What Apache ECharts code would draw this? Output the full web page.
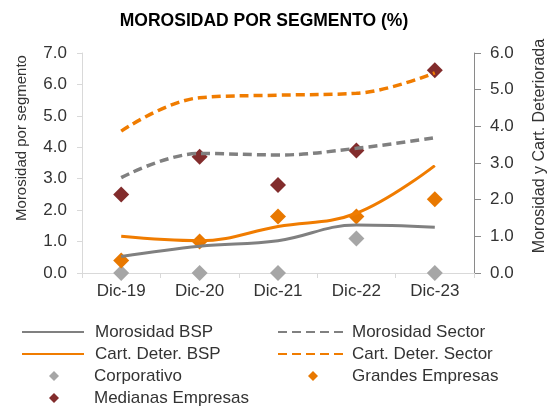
<!DOCTYPE html>
<html>
<head>
<meta charset="utf-8">
<script src="https://cdn.jsdelivr.net/npm/echarts@6/dist/echarts.min.js"></script>
<style>
  html, body { margin: 0; padding: 0; background: #fff; }
</style>
</head>
<body>
<div id="chart" style="width: 552px; height: 406px;"></div>
<script>
// categorias y valores
const periodos = ['Dic-19', 'Dic-20', 'Dic-21', 'Dic-22', 'Dic-23']

// eje derecho: morosidad y cartera deteriorada
const morosidadBSP = [0.45, 0.73, 0.88, 1.31, 1.25]
const morosidadSector = [2.6, 3.26, 3.22, 3.4, 3.69]
const cartDeterBSP = [1.0, 0.88, 1.27, 1.63, 2.93]
const cartDeterSector = [3.87, 4.78, 4.85, 4.9, 5.46]

// eje izquierdo: morosidad por segmento
const corporativo = [0, 0, 0, 1.1, 0]
const grandesEmpresas = [0.4, 1.0, 1.8, 1.8, 2.35]
const medianasEmpresas = [2.5, 3.7, 2.8, 3.9, 6.45]

const FONT = 'Liberation Sans, Arial, sans-serif'
const GRIS = '#808080'
const NARANJA = '#f07c00'

const chart = echarts.init(document.getElementById('chart'))

const legendText = (pad) => ({
  fontFamily: FONT,
  fontSize: 17,
  color: '#333',
  lineHeight: 18,
  padding: [0, 0, 0, pad]
})

const option = {
  animation: false,
  title: {
    text: 'MOROSIDAD POR SEGMENTO (%)',
    left: 259,
    top: 7,
    textAlign: 'center',
    textStyle: { fontFamily: FONT, fontSize: 17.5, fontWeight: 'bold', color: '#000' }
  },
  grid: { left: 82, right: 78, top: 53, bottom: 133 },
  legend: [
    {
      data: ['Morosidad BSP', 'Cart. Deter. BSP'],
      orient: 'vertical', left: 16, top: 318, height: 60,
      itemWidth: 62, itemHeight: 14, itemGap: 4,
      itemStyle: { opacity: 0 },
      textStyle: legendText(6)
    },
    {
      data: ['Morosidad Sector', 'Cart. Deter. Sector'],
      orient: 'vertical', left: 272, top: 318, height: 60,
      itemWidth: 69, itemHeight: 14, itemGap: 4,
      itemStyle: { opacity: 0 },
      textStyle: legendText(0)
    },
    {
      data: ['Corporativo', 'Medianas Empresas'],
      orient: 'vertical', left: 44, top: 362, height: 60,
      itemWidth: 10, itemHeight: 10, itemGap: 4,
      icon: 'diamond',
      textStyle: legendText(30)
    },
    {
      data: ['Grandes Empresas'],
      orient: 'vertical', left: 303, top: 362, height: 60,
      itemWidth: 10, itemHeight: 10, itemGap: 4,
      icon: 'diamond',
      textStyle: legendText(29)
    }
  ],
  xAxis: {
    type: 'category',
    data: periodos,
    axisLine: { lineStyle: { color: '#d9d9d9', width: 1 } },
    axisTick: { show: true, length: 5, lineStyle: { color: '#d9d9d9' } },
    axisLabel: { margin: 10, fontFamily: FONT, fontSize: 17, color: '#333' }
  },
  yAxis: [
    {
      type: 'value',
      min: 0, max: 7, interval: 1,
      axisLine: { show: true, lineStyle: { color: '#d9d9d9' } },
      axisTick: { show: true, length: 5, lineStyle: { color: '#d9d9d9' } },
      splitLine: { show: false },
      axisLabel: { margin: 15, fontFamily: FONT, fontSize: 17, color: '#333', formatter: v => v.toFixed(1) }
    },
    {
      type: 'value',
      min: 0, max: 6, interval: 1,
      position: 'right',
      axisLine: { show: true, lineStyle: { color: '#8a8a8a' } },
      axisTick: { show: true, length: 7, lineStyle: { color: '#8a8a8a' } },
      splitLine: { show: false },
      axisLabel: { margin: 16, fontFamily: FONT, fontSize: 17, color: '#333', formatter: v => v.toFixed(1) }
    }
  ],
  graphic: [
    {
      type: 'text', x: 22, y: 138, rotation: Math.PI / 2,
      style: { text: 'Morosidad por segmento', font: '15px ' + FONT, fill: '#333', align: 'center', verticalAlign: 'middle' }
    },
    {
      type: 'text', x: 540, y: 146, rotation: Math.PI / 2,
      style: { text: 'Morosidad y Cart. Deteriorada', font: '16px ' + FONT, fill: '#333', align: 'center', verticalAlign: 'middle' }
    }
  ],
  series: [
    {
      name: 'Morosidad BSP', type: 'line', yAxisIndex: 1, data: morosidadBSP,
      smooth: 0.4, symbol: 'none',
      lineStyle: { color: GRIS, width: 3 }, itemStyle: { color: GRIS }
    },
    {
      name: 'Morosidad Sector', type: 'line', yAxisIndex: 1, data: morosidadSector,
      smooth: 0.4, symbol: 'none',
      lineStyle: { color: GRIS, width: 3.5, type: [9, 5] }, itemStyle: { color: GRIS }
    },
    {
      name: 'Cart. Deter. BSP', type: 'line', yAxisIndex: 1, data: cartDeterBSP,
      smooth: 0.4, symbol: 'none',
      lineStyle: { color: NARANJA, width: 3 }, itemStyle: { color: NARANJA }
    },
    {
      name: 'Cart. Deter. Sector', type: 'line', yAxisIndex: 1, data: cartDeterSector,
      smooth: 0.4, symbol: 'none',
      lineStyle: { color: NARANJA, width: 3.5, type: [9, 5] }, itemStyle: { color: NARANJA }
    },
    {
      name: 'Corporativo', type: 'scatter', yAxisIndex: 0, data: corporativo,
      symbol: 'diamond', symbolSize: 16, itemStyle: { color: '#a6a6a6', opacity: 1 }
    },
    {
      name: 'Grandes Empresas', type: 'scatter', yAxisIndex: 0, data: grandesEmpresas,
      symbol: 'diamond', symbolSize: 16, itemStyle: { color: '#e87800', opacity: 1 }
    },
    {
      name: 'Medianas Empresas', type: 'scatter', yAxisIndex: 0, data: medianasEmpresas,
      symbol: 'diamond', symbolSize: 16, itemStyle: { color: '#822c2c', opacity: 1 }
    }
  ]
}

chart.setOption(option)
</script>
</body>
</html>
